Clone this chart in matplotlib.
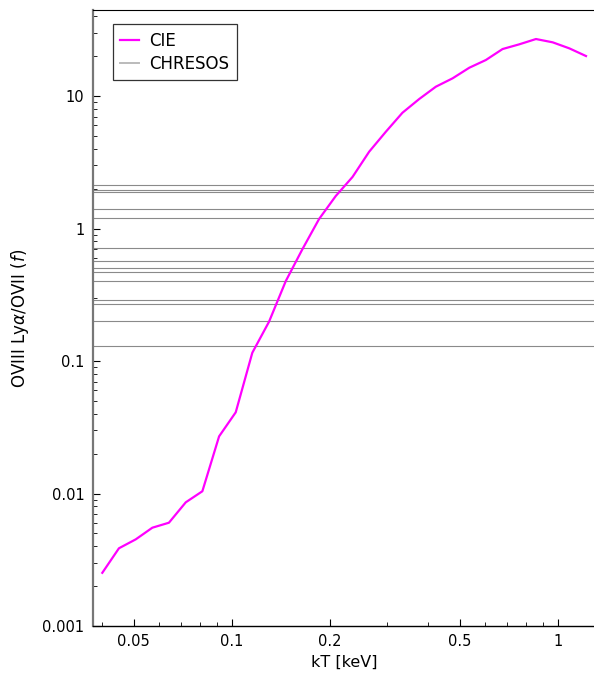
import numpy as np
import matplotlib
matplotlib.use("Agg")
import matplotlib.pyplot as plt
from matplotlib.ticker import FixedLocator, FixedFormatter, LogLocator, NullFormatter

# CIE ratio curve
kT = [0.0401, 0.0451, 0.0508, 0.0571, 0.0642, 0.0723, 0.0813, 0.0915, 0.1029, 0.1157,
      0.1302, 0.1466, 0.1649, 0.1854, 0.2086, 0.2348, 0.2641, 0.2972, 0.3341, 0.3760,
      0.4230, 0.4760, 0.5356, 0.6022, 0.6776, 0.7624, 0.8579, 0.9654, 1.0854, 1.2215]
cie_ratio = [0.00252, 0.00386, 0.00451, 0.00552, 0.00602, 0.00858, 0.0104, 0.0270, 0.0410, 0.1155,
             0.198, 0.402, 0.700, 1.18, 1.76, 2.45, 3.80, 5.38, 7.48, 9.49,
             11.76, 13.60, 16.35, 18.70, 22.63, 24.56, 26.93, 25.43, 22.91, 20.04]

# CHRESOS observed ratios (horizontal lines)
chresos = [2.13, 1.94, 1.88, 1.41, 1.21, 0.709, 0.571, 0.501, 0.469, 0.400,
           0.289, 0.269, 0.200, 0.130]

xticks = [0.05, 0.1, 0.2, 0.5, 1]
xticklabels = ["0.05", "0.1", "0.2", "0.5", "1"]
yticks = [0.001, 0.01, 0.1, 1, 10]
yticklabels = ["0.001", "0.01", "0.1", "1", "10"]

plt.rcParams["font.family"] = "DejaVu Sans"
plt.rcParams["font.size"] = 10.5

W, H = 594, 675
fig = plt.figure(figsize=(W / 100, H / 100), dpi=100)
x0, x1, y0, y1 = 92.7, 596, 626, 10
ax = fig.add_axes([x0 / W, 1 - y0 / H, (x1 - x0) / W, (y0 - y1) / H])

ax.set_xscale("log")
ax.set_yscale("log")
ax.set_xlim(0.03747, 1.311)
ax.set_ylim(0.001, 44.6)

ax.plot(kT, cie_ratio, color="#ff00ff", lw=1.6, label="CIE", zorder=3)
for i, v in enumerate(chresos):
    ax.axhline(v, color="#8a8a8a", lw=0.8, label="CHRESOS" if i == 0 else None, zorder=2)

ax.xaxis.set_major_locator(FixedLocator(xticks))
ax.xaxis.set_major_formatter(FixedFormatter(xticklabels))
ax.xaxis.set_minor_locator(LogLocator(base=10, subs=np.arange(2, 10)))
ax.xaxis.set_minor_formatter(NullFormatter())
ax.yaxis.set_major_locator(FixedLocator(yticks))
ax.yaxis.set_major_formatter(FixedFormatter(yticklabels))
ax.yaxis.set_minor_locator(LogLocator(base=10, subs=np.arange(2, 10)))
ax.yaxis.set_minor_formatter(NullFormatter())

ax.tick_params(which="both", direction="in", top=False, right=False)
ax.tick_params(which="major", length=5, width=0.8, pad=6)
ax.tick_params(which="minor", length=3, width=0.6)

ax.spines["left"].set_color("#777777")
ax.spines["left"].set_linewidth(1.6)
ax.spines["bottom"].set_linewidth(1.0)
ax.spines["top"].set_linewidth(0.8)

ax.set_xlabel("kT [keV]", fontsize=11.5, labelpad=4)
ax.set_ylabel(r"OVIII Ly$\alpha$/OVII ($f$)", fontsize=12, labelpad=8)

leg = ax.legend(loc="upper left", bbox_to_anchor=(0.040, 0.977), borderaxespad=0,
                fancybox=False, framealpha=1, edgecolor="#333333", handlelength=1.15,
                borderpad=0.45, labelspacing=0.3, handletextpad=0.6, fontsize=12)
leg.get_frame().set_linewidth(0.9)
leg.legend_handles[1].set_color("#bbbbbb")
leg.legend_handles[1].set_linewidth(1.4)

fig.savefig("out.png", dpi=100)
